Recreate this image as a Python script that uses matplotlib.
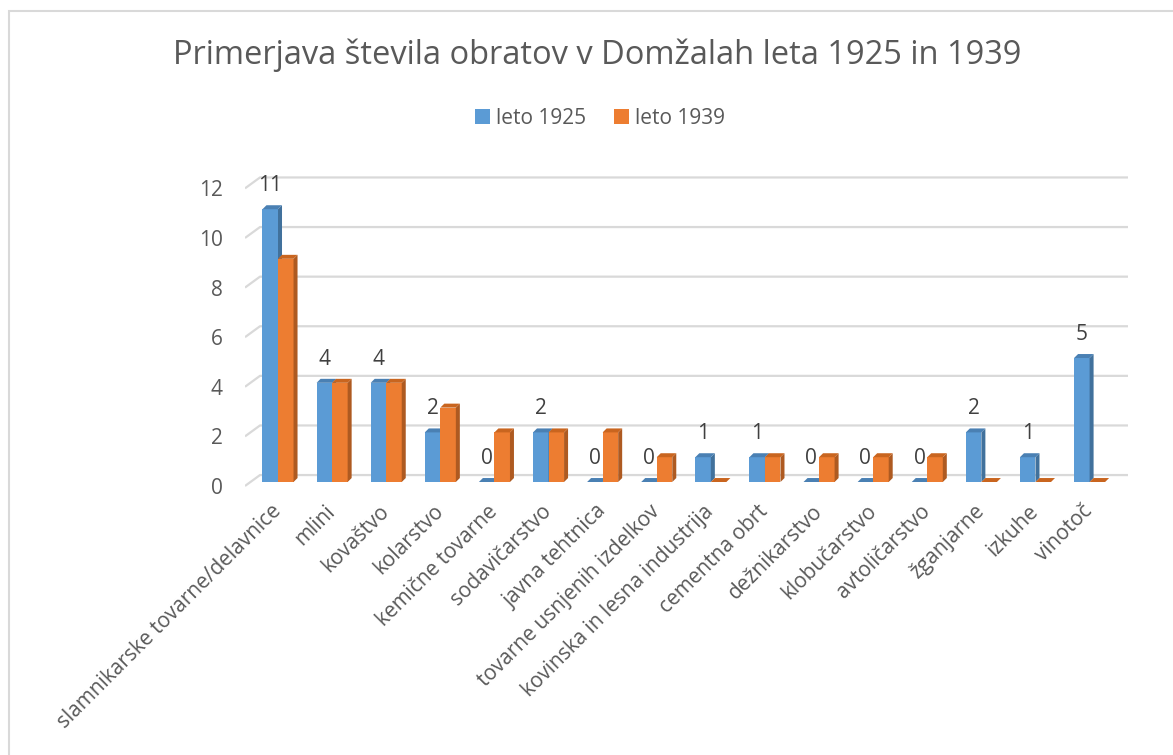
import matplotlib.pyplot as plt
import matplotlib.transforms as mtransforms
from matplotlib.patches import Polygon, Rectangle, Patch

plt.rcParams['font.family'] = ['Open Sans', 'DejaVu Sans']

categories = ['slamnikarske tovarne/delavnice', 'mlini', 'kovaštvo', 'kolarstvo',
              'kemične tovarne', 'sodavičarstvo', 'javna tehtnica',
              'tovarne usnjenih izdelkov', 'kovinska in lesna industrija',
              'cementna obrt', 'dežnikarstvo', 'klobučarstvo', 'avtoličarstvo',
              'žganjarne', 'izkuhe', 'vinotoč']
leto_1925 = [11, 4, 4, 2, 0, 2, 0, 0, 1, 1, 0, 0, 0, 2, 1, 5]
leto_1939 = [9, 4, 4, 3, 2, 2, 2, 1, 0, 1, 1, 1, 1, 0, 0, 0]
series_names = ['leto 1925', 'leto 1939']
yticks = [0, 2, 4, 6, 8, 10, 12]

front_cols = ['#5b9bd5', '#ed7d31']
side_cols = ['#41719c', '#ae5a21']
top_cols = ['#4a80b3', '#c9651f']
text_col = '#595959'
grid_col = '#d9d9d9'

W, H = 1173, 755
fig = plt.figure(figsize=(W / 100, H / 100), dpi=100)
# pixel layout of the plot area
left, right, top, bottom = 245, 1128, 172, 494.4
ax = fig.add_axes([left / W, 1 - bottom / H, (right - left) / W, (bottom - top) / H])
ax.set_xlim(-0.61, 15.71)
ax.set_ylim(-0.5, 12.5)
for s in ax.spines.values():
    s.set_visible(False)

# frame around the chart
fig.add_artist(Rectangle((9 / W, -0.1), 1.2, 1 - 11 / H + 0.1, transform=fig.transFigure,
                         fill=False, edgecolor='#d9d9d9', linewidth=1.5))

# gridlines with small perspective slant at the left
back, front = 0.28, -0.16
x_slant = -0.333
for v in yticks:
    ax.plot([-0.61, x_slant, 15.71], [v + front, v + back, v + back],
            color=grid_col, linewidth=1.6, zorder=0, solid_capstyle='butt')

w = 0.287    # bar width (category units)
dx, dy = 0.074, 0.16   # 3d depth offsets


def draw_bar(x0, h, k):
    if h > 0:
        ax.add_patch(Rectangle((x0, 0), w, h, facecolor=front_cols[k], edgecolor='none', zorder=2))
        ax.add_patch(Polygon([(x0 + w, 0), (x0 + w + dx, dy), (x0 + w + dx, h + dy), (x0 + w, h)],
                             closed=True, facecolor=side_cols[k], edgecolor='none', zorder=2))
    ax.add_patch(Polygon([(x0, h), (x0 + w, h), (x0 + w + dx, h + dy), (x0 + dx, h + dy)],
                         closed=True, facecolor=top_cols[k], edgecolor='none', zorder=2))


for i in range(len(categories)):
    draw_bar(i - w, leto_1925[i], 0)
    draw_bar(i, leto_1939[i], 1)
    ax.text(i - w / 2, leto_1925[i] + 0.95, str(leto_1925[i]), ha='center', va='center',
            fontsize=15, color='#404040', zorder=3)

# y axis labels
ax.set_yticks(yticks)
ax.set_yticklabels([str(v) for v in yticks], fontsize=15, color=text_col)
ax.tick_params(axis='y', length=0, pad=16)
off = mtransforms.ScaledTranslation(0, -4 / 100, fig.dpi_scale_trans)
for lab in ax.get_yticklabels():
    lab.set_transform(lab.get_transform() + off)

# x axis labels
ax.set_xticks(range(len(categories)))
ax.set_xticklabels(categories, rotation=45, ha='right', va='center',
                   rotation_mode='anchor', fontsize=15, color=text_col)
ax.tick_params(axis='x', length=0, pad=10)

fig.text(597 / W, 1 - 55 / H, 'Primerjava števila obratov v Domžalah leta 1925 in 1939',
         ha='center', va='center', fontsize=23.5, color=text_col)

handles = [Patch(facecolor=front_cols[k], edgecolor='none') for k in range(2)]
fig.legend(handles, series_names, loc='center', bbox_to_anchor=(600 / W, 1 - 118 / H),
           ncol=2, frameon=False, fontsize=15, handlelength=0.72, handleheight=0.72,
           handletextpad=0.3, columnspacing=1.3, labelcolor=text_col)

fig.savefig('out.png', dpi=100)
